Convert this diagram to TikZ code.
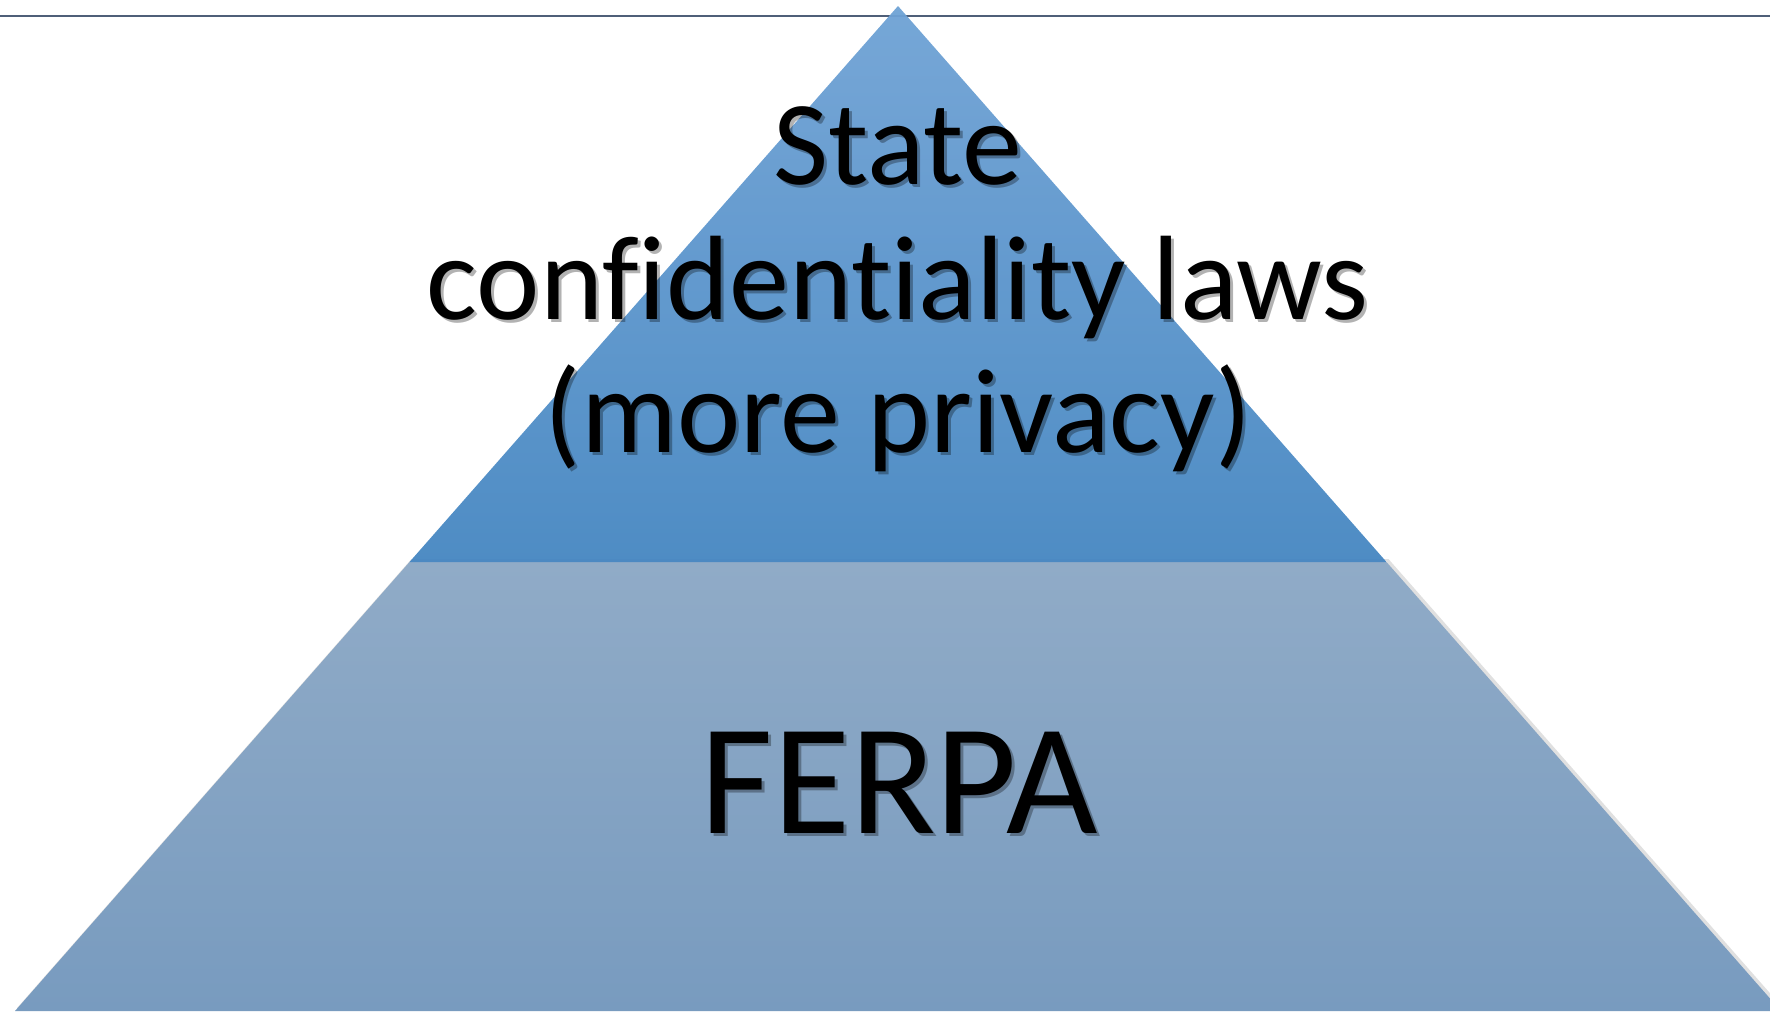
\documentclass[tikz,border=0pt]{standalone}
\usepackage{fontspec}
\setmainfont{Carlito}[Ligatures={NoCommon}]
\newcommand{\shadowtext}[1]{\rlap{\hspace{3pt}\raisebox{-3pt}{\begin{pgfscope}\pgfsetfillopacity{0.3}#1\end{pgfscope}}}#1}
\begin{document}
\begin{tikzpicture}[x=1pt,y=-1pt,
  lbl/.style={anchor=base,inner sep=0pt,text=black},
  big/.style={font=\fontsize{120}{136}\selectfont},
  huge/.style={font=\fontsize{158}{180}\selectfont}]
\useasboundingbox (0,0) rectangle (1770,1015);
\clip (0,0) rectangle (1770,1015);
\definecolor{topA}{HTML}{6FA2D5}
\definecolor{topB}{HTML}{4586C1}
\definecolor{botA}{HTML}{90ABC7}
\definecolor{botB}{HTML}{789BBF}
\definecolor{rule}{HTML}{4F5F78}
% top rule
\draw[rule,line width=2.2pt] (0,16) -- (1770,16);
% coordinates
\coordinate (apex) at (898,6);
\coordinate (ml) at (409.5,562);
\coordinate (mr) at (1386.5,562);
\coordinate (bl) at (15,1011);
\coordinate (br) at (1781,1011);
% soft shadow
\fill[black,opacity=0.12] ([xshift=2,yshift=3]ml) -- ([xshift=2,yshift=3]bl) -- ([xshift=2,yshift=3]br) -- ([xshift=2,yshift=3]mr) -- cycle;
% bottom trapezoid
\shade[top color=botA,bottom color=botB] (ml) -- (bl) -- (br) -- (mr) -- cycle;
% top triangle
\shade[top color=topA,bottom color=topB,opacity=0.95] (apex) -- (ml) -- (mr) -- cycle;
% text
\node[lbl,big] (state1) at (898,184) {\shadowtext{State}};
\node[lbl,big] (state2) at (898,319) {\shadowtext{confidentiality laws}};
\node[lbl,big] (state3) at (898,452) {\shadowtext{(more privacy)}};
\node[lbl,huge] (ferpa) at (899,833) {\shadowtext{FERPA}};
\end{tikzpicture}
\end{document}
